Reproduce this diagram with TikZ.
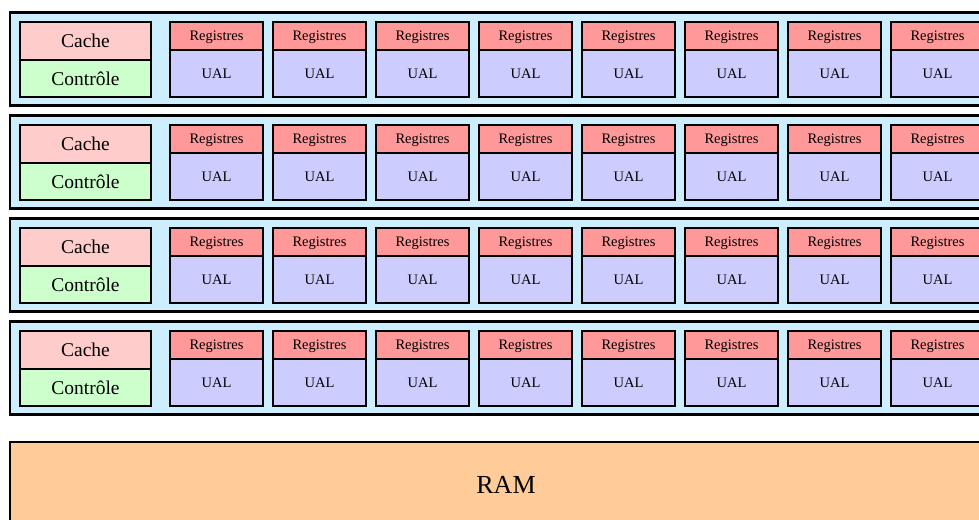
\documentclass[tikz,border=0pt]{standalone}
\usepackage{fontspec}
\setmainfont{Liberation Serif}
\definecolor{rowblue}{HTML}{CCEEFF}
\definecolor{cachepink}{HTML}{FFCCCC}
\definecolor{ctrlgreen}{HTML}{CCFFCC}
\definecolor{regred}{HTML}{FF9999}
\definecolor{ualblue}{HTML}{CCCCFF}
\definecolor{ramorange}{HTML}{FFCC99}
\tikzset{
  rowbox/.style={draw,line width=2.2pt,fill=rowblue,minimum width=992pt,minimum height=93pt,inner sep=0pt},
  unitbox/.style={draw,line width=1.2pt,inner sep=0pt},
  cachebox/.style={unitbox,fill=cachepink,minimum width=131pt,minimum height=38pt,font=\fontsize{19.5}{22}\selectfont},
  ctrlbox/.style={unitbox,fill=ctrlgreen,minimum width=131pt,minimum height=37pt,font=\fontsize{19.5}{22}\selectfont},
  regbox/.style={unitbox,fill=regred,minimum width=93pt,minimum height=28pt,text depth=0pt,font=\fontsize{14.5}{17}\selectfont},
  ualbox/.style={unitbox,fill=ualblue,minimum width=93pt,minimum height=47pt,text depth=0pt,font=\fontsize{14.5}{17}\selectfont},
  rambox/.style={draw,line width=2.2pt,fill=ramorange,minimum width=992pt,minimum height=86pt,font=\fontsize{26}{30}\selectfont}
}
\begin{document}
\begin{tikzpicture}[x=1pt,y=-1pt]
\useasboundingbox (0,0) rectangle (979,519);
\clip (0,0) rectangle (979,519);
\foreach \r in {0,1,...,3} {
  \node[rowbox] (row\r) at (506,{59+103*\r}) {};
  \node[cachebox] (cache\r) at (85.5,{41+103*\r}) {Cache};
  \node[ctrlbox] (ctrl\r) at (85.5,{78.5+103*\r}) {Contrôle};
  \foreach \c in {0,1,...,7} {
    \node[regbox] (reg\r\c) at ({216.5+103*\c},{36+103*\r}) {Registres};
    \node[ualbox] (ual\r\c) at ({216.5+103*\c},{73.5+103*\r}) {UAL};
  }
}
\node[rambox] (ram) at (506,485) {RAM};
\end{tikzpicture}
\end{document}
